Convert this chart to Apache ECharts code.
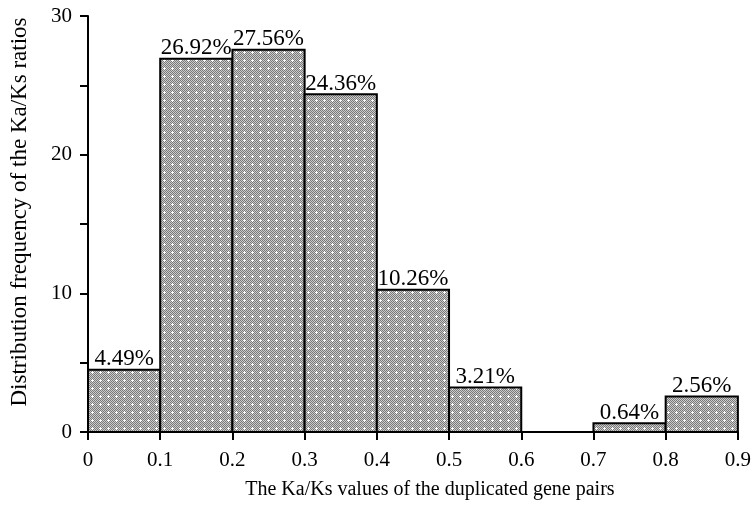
<!DOCTYPE html>
<html><head><meta charset="utf-8">
<script src="https://cdn.jsdelivr.net/npm/echarts@6/dist/echarts.min.js"></script>
<style>html,body{margin:0;padding:0;background:#fff}#c{width:754px;height:506px}</style>
</head><body><div id="c"></div>
<script>
const binStarts = [0, 0.1, 0.2, 0.3, 0.4, 0.5, 0.6, 0.7, 0.8];
const binWidth = 0.1;
const values = [4.49, 26.92, 27.56, 24.36, 10.26, 3.21, 0, 0.64, 2.56];
const labels = ['4.49%', '26.92%', '27.56%', '24.36%', '10.26%', '3.21%', '', '0.64%', '2.56%'];

function makePattern() {
  const c = document.createElement('canvas');
  c.width = 8; c.height = 8;
  const g = c.getContext('2d');
  for (let y = 0; y < 8; y++) for (let x = 0; x < 8; x++) {
    g.fillStyle = ((x + y) % 2 === 0) ? '#7a7a7a' : '#cccccc';
    g.fillRect(x, y, 1, 1);
  }
  g.fillStyle = '#ffffff';
  g.fillRect(3, 4, 3, 1);
  g.fillRect(4, 3, 1, 3);
  return c;
}
const pattern = makePattern();
const font = '"Liberation Serif", "DejaVu Serif", serif';
const data = binStarts.map((s, i) => [s, s + binWidth, values[i], labels[i]]);

const chart = echarts.init(document.getElementById('c'));
chart.setOption({
  animation: false,
  grid: {left: 86, right: 14, top: 16, bottom: 74},
  xAxis: {
    type: 'value', min: 0, max: 0.9, interval: 0.1,
    name: 'The Ka/Ks values of the duplicated gene pairs',
    nameLocation: 'middle', nameGap: 48,
    nameTextStyle: {fontFamily: font, fontSize: 20, color: '#000', padding: [0, 0, 0, 34]},
    axisLine: {show: true, lineStyle: {color: '#000', width: 2}},
    axisTick: {show: true, length: 8, lineStyle: {color: '#000', width: 2}},
    axisLabel: {fontFamily: font, fontSize: 21, color: '#000', margin: 18,
      formatter: v => String(Math.round(v * 10) / 10)},
    splitLine: {show: false}
  },
  yAxis: {
    type: 'value', min: 0, max: 30, interval: 5,
    name: 'Distribution frequency of the Ka/Ks ratios',
    nameLocation: 'middle', nameGap: 57,
    nameTextStyle: {fontFamily: font, fontSize: 23, color: '#000', padding: [0, 0, 0, 24]},
    axisLine: {show: true, lineStyle: {color: '#000', width: 2}},
    axisTick: {show: true, length: 8, lineStyle: {color: '#000', width: 2}},
    axisLabel: {fontFamily: font, fontSize: 21, color: '#000', margin: 16,
      formatter: v => (v % 10 === 0 ? String(v) : '')},
    splitLine: {show: false}
  },
  series: [{
    type: 'custom',
    data: data,
    encode: {x: [0, 1], y: 2},
    renderItem: function (params, api) {
      const x0 = api.value(0), x1 = api.value(1), v = api.value(2);
      if (v <= 0) return null;
      const p0 = api.coord([x0, 0]);
      const p1 = api.coord([x1, v]);
      return {
        type: 'group',
        children: [{
          type: 'rect',
          shape: {x: p0[0], y: p1[1], width: p1[0] - p0[0], height: p0[1] - p1[1]},
          style: {fill: {image: pattern, repeat: 'repeat'}, stroke: '#000', lineWidth: 2}
        }, {
          type: 'text',
          z2: 10,
          style: {
            text: data[params.dataIndex][3],
            x: (p0[0] + p1[0]) / 2, y: p1[1] + 1,
            align: 'center', verticalAlign: 'bottom',
            font: '23px ' + font, fill: '#000'
          }
        }]
      };
    }
  }]
});
</script></body></html>
